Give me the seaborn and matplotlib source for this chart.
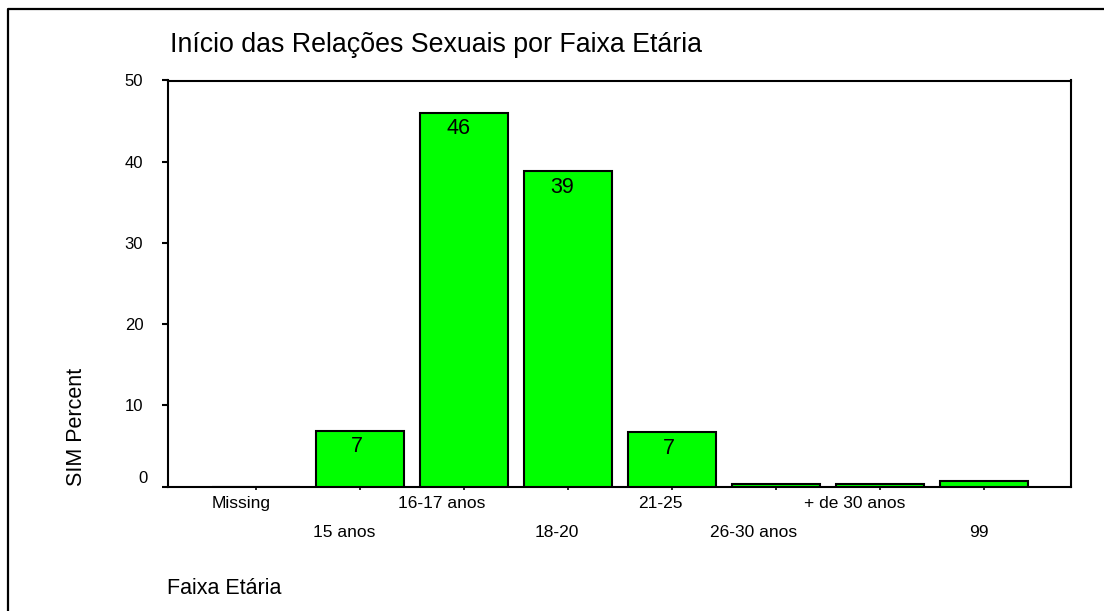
import matplotlib
matplotlib.use("Agg")
import matplotlib.pyplot as plt
import matplotlib.transforms as mtransforms
from matplotlib.lines import Line2D
import seaborn as sns
import pandas as pd

# Age-group categories and the percentage of "SIM" answers in each
categories = ["Missing", "15 anos", "16-17 anos", "18-20", "21-25",
              "26-30 anos", "+ de 30 anos", "99"]
percent = [0.0, 6.9, 46.0, 38.8, 6.7, 0.35, 0.35, 0.7]

title = "Início das Relações Sexuais por Faixa Etária"
y_label = "SIM Percent"
x_label = "Faixa Etária"
y_ticks = [0, 10, 20, 30, 40, 50]

sns.set_style("white")
plt.rcParams["font.family"] = ["Liberation Sans", "DejaVu Sans"]
plt.rcParams["text.color"] = "black"
plt.rcParams["xtick.color"] = "black"
plt.rcParams["ytick.color"] = "black"
plt.rcParams["axes.labelcolor"] = "black"

df = pd.DataFrame({"faixa": categories, "pct": percent})

W, H = 1104, 611
fig = plt.figure(figsize=(W / 100, H / 100), dpi=100)
fig.patch.set_facecolor("white")

ax = fig.add_axes([168.3 / W, (H - 486.7) / H, (1071 - 168.3) / W, (486.7 - 80.5) / H])

sns.barplot(data=df, x="faixa", y="pct", order=categories, color="#00FF00",
            saturation=1, edgecolor="black", linewidth=1.5, width=0.846, ax=ax,
            zorder=3)

ax.set_xlim(-0.845, 7.84)
ax.set_ylim(0, 50)
ax.set_yticks(y_ticks)
ax.set_yticklabels([str(t) for t in y_ticks])
ax.set_xlabel("")
ax.set_ylabel("")

for side in ["left", "right", "top", "bottom"]:
    ax.spines[side].set_visible(True)
    ax.spines[side].set_color("black")
    ax.spines[side].set_linewidth(1.5)

ax.tick_params(axis="y", direction="out", length=4.5, width=1.5, colors="black",
               labelsize=12, pad=13.5, left=True)
ax.tick_params(axis="x", direction="out", length=2.5, width=1.2, colors="black",
               labelsize=12.5, pad=4.5, bottom=True)

# Stagger the category labels on two rows
for i, tick in enumerate(ax.xaxis.get_major_ticks()):
    if i % 2 == 1:
        tick.set_pad(25)

# Value labels inside the taller bars
value_labels = []
for i, v in enumerate(percent):
    if v >= 5:
        value_labels.append(
            ax.annotate(f"{v:.0f}", xy=(i, v), xytext=(0, -11.5),
                        textcoords="offset points", ha="center", va="center",
                        fontsize=15.5, color="black", zorder=4))

fig.text(170 / W, 1 - 51.7 / H, title, fontsize=19.3, ha="left", va="baseline",
         color="black")
fig.text(167 / W, 1 - 594 / H, x_label, fontsize=15.5, ha="left", va="baseline",
         color="black")
fig.text(76.5 / W, 1 - 427 / H, y_label, fontsize=15.5, rotation=90,
         ha="center", va="center", color="black")

# Outer frame (top and left edges)
fig.add_artist(Line2D([8 / W, 8 / W, 1.0], [0.0, 1 - 9 / H, 1 - 9 / H],
                      transform=fig.transFigure, color="black", linewidth=1.6))

# Centred labels sit a quarter of their width left of their anchor
fig.canvas.draw()
renderer = fig.canvas.get_renderer()


def nudge(txt, dx_px, dy_px=0.0):
    txt.set_transform(txt.get_transform() +
                      mtransforms.ScaledTranslation(dx_px / 100, dy_px / 100,
                                                    fig.dpi_scale_trans))


for lbl in ax.get_xticklabels():
    w = lbl.get_window_extent(renderer).width
    nudge(lbl, -0.25 * w)

for ann in value_labels:
    w = ann.get_window_extent(renderer).width
    ann.xyann = (-0.25 * w * 72 / 100, -11.5)

# Zero label sits slightly above the baseline
nudge(ax.get_yticklabels()[0], 4, 10)

fig.savefig("out.png", dpi=100, facecolor="white")
